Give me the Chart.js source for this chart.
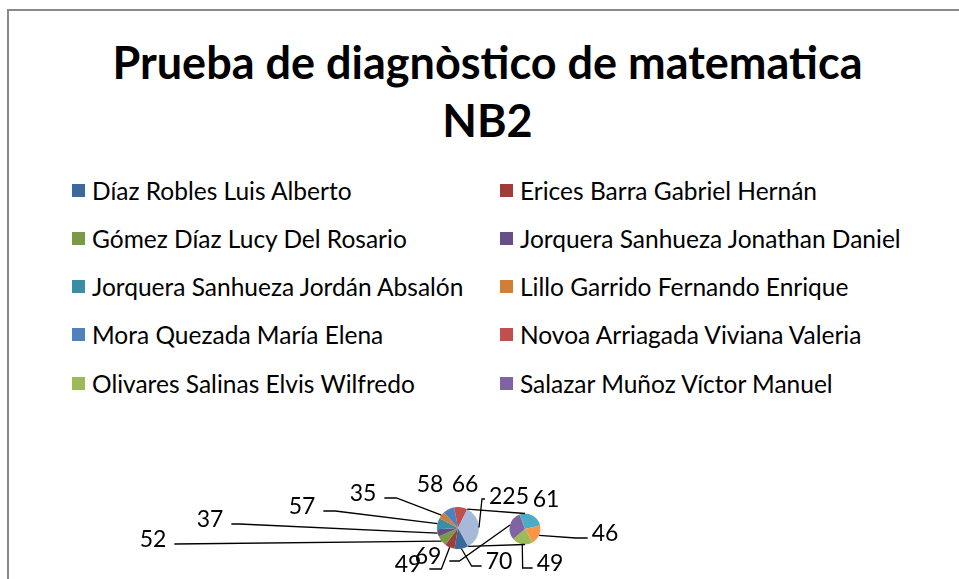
<!DOCTYPE html>
<html><head><meta charset="utf-8">
<script src="https://cdn.jsdelivr.net/npm/chart.js@4.4.1/dist/chart.umd.min.js"></script>
<style>
html,body{margin:0;padding:0;background:#fff;}
#wrap{position:relative;width:959px;height:579px;overflow:hidden;background:#fff;}
#frame{position:absolute;left:7px;top:9px;width:1000px;height:620px;border-left:2px solid #898989;border-top:2px solid #898989;}
canvas{position:absolute;left:0;top:0;}
#title{position:absolute;left:0;width:975px;top:33px;text-align:center;font-family:Lato,sans-serif;font-weight:bold;font-size:45px;line-height:58px;color:#000;}
.li{position:absolute;display:flex;align-items:center;white-space:nowrap;height:30px;font-family:Lato,sans-serif;font-size:24.5px;color:#000;}
.sw{width:13px;height:13px;margin-right:7px;flex:none;}
</style></head>
<body>
<div id="wrap">
  <div id="frame"></div>
  <div id="title">Prueba de diagnòstico de matematica<br>NB2</div>
  <div id="legend"></div>
  <canvas id="c1" width="959" height="579"></canvas>
  <canvas id="c2" width="959" height="579"></canvas>
</div>
<script>
// ---- data ----
const titleLines = ['Prueba de diagnòstico de matematica', 'NB2'];
const students = [
  'Díaz Robles Luis Alberto',
  'Erices Barra Gabriel Hernán',
  'Gómez Díaz Lucy Del Rosario',
  'Jorquera Sanhueza Jonathan Daniel',
  'Jorquera Sanhueza Jordán Absalón',
  'Lillo Garrido Fernando Enrique',
  'Mora Quezada María Elena',
  'Novoa Arriagada Viviana Valeria',
  'Olivares Salinas Elvis Wilfredo',
  'Salazar Muñoz Víctor Manuel',
  'Alumno 11',
  'Alumno 12'
];
const scores = [70, 49, 52, 37, 57, 35, 58, 66, 49, 69, 61, 46];
const otherLabel = 'Otro';
const secondCount = 4;            // last points moved to the second pie
const legendCount = 10;           // entries visible in the legend

// ---- styles ----
const colors = ['#3D689C','#9D3E3B','#7A9A45','#654F86','#3A8DA4','#D17E36',
                '#4F81BD','#C0504D','#9BBB59','#8064A2','#4BACC6','#F79646'];
const otherColor = '#A7B9D9';
const labelFont = '23px Lato, sans-serif';

document.getElementById('title').innerHTML = titleLines.join('<br>');

// build pie datasets from the data arrays
const nMain = students.length - secondCount;
const mainLabels = students.slice(0, nMain).concat([otherLabel]);
const secLabels = students.slice(nMain);
const secValues = scores.slice(nMain);
const mainValues = scores.slice(0, nMain).concat([secValues.reduce((a, b) => a + b, 0)]);
const mainColors = colors.slice(0, nMain).concat([otherColor]);
const secColors = colors.slice(nMain);

// label layout (text centre offset from the pie centre, leader settings)
const mainLabelLayout = [
  {dx: 41, dy: 32, side: 'R', elbow: 10},
  {dx: -50, dy: 35, side: 'L', elbow: 12},
  {dx: -305, dy: 10, side: 'L', elbow: 0},
  {dx: -248, dy: -10, side: 'L', elbow: 8},
  {dx: -156, dy: -23, side: 'L', elbow: 12},
  {dx: -95, dy: -36, side: 'L', elbow: 12},
  {dx: -28, dy: -45, side: null},
  {dx: 7, dy: -45, side: null},
  {dx: 51, dy: -33, side: 'R', elbow: 3, ay: 4}
];
const secLabelLayout = [
  {dx: 25, dy: 33, side: 'R', elbow: 10},
  {dx: -97, dy: 26, side: 'L', elbow: 10},
  {dx: 21, dy: -31, side: null},
  {dx: 80, dy: 3, side: 'R', elbow: 12}
];

// ---- legend (HTML, built from the data) ----
const legend = document.getElementById('legend');
for (let i = 0; i < legendCount; i++) {
  const col = i % 2, row = Math.floor(i / 2);
  const d = document.createElement('div');
  d.className = 'li';
  d.style.left = (col ? 500 : 72) + 'px';
  d.style.top = (190 + row * 48.25 - 15) + 'px';
  d.innerHTML = '<span class="sw" style="background:' + colors[i] + '"></span>';
  d.appendChild(document.createTextNode(students[i]));
  legend.appendChild(d);
}

function drawPieLabels(chart, values, layout) {
  const ctx = chart.ctx;
  const meta = chart.getDatasetMeta(0);
  ctx.save();
  ctx.font = labelFont;
  ctx.fillStyle = '#000';
  ctx.strokeStyle = '#000';
  ctx.lineWidth = 1.3;
  ctx.textAlign = 'center';
  ctx.textBaseline = 'alphabetic';
  meta.data.forEach((arc, i) => {
    const L = layout[i];
    const p = arc.getProps(['x', 'y', 'startAngle', 'endAngle', 'outerRadius'], true);
    const mid = (p.startAngle + p.endAngle) / 2;
    const ax = p.x + Math.cos(mid) * p.outerRadius;
    const ay = p.y + Math.sin(mid) * p.outerRadius;
    const tx = p.x + L.dx, ty = p.y + L.dy;
    const txt = String(values[i]);
    const w = ctx.measureText(txt).width;
    if (L.side) {
      const px = L.side === 'R' ? tx - w / 2 - 4 : tx + w / 2 + 8;
      const py = ty + (L.ay !== undefined ? L.ay : 6);
      const ex = L.side === 'R' ? px - L.elbow : px + L.elbow;
      ctx.beginPath();
      ctx.moveTo(px, py);
      ctx.lineTo(ex, py);
      ctx.lineTo(ax, ay);
      ctx.stroke();
    }
    ctx.fillText(txt, tx, ty + 8.5);
  });
  ctx.restore();
}

const mainChart = new Chart(document.getElementById('c1'), {
  type: 'pie',
  data: {labels: mainLabels, datasets: [{data: mainValues, backgroundColor: mainColors, borderWidth: 0}]},
  options: {
    responsive: false, animation: false, events: [],
    rotation: 151,
    layout: {padding: {left: 437, right: 480, top: 507, bottom: 30}},
    plugins: {legend: {display: false}, tooltip: {enabled: false}, title: {display: false}}
  },
  plugins: [{id: 'mainLabels', afterDraw(c) { drawPieLabels(c, mainValues, mainLabelLayout); }}]
});

const secChart = new Chart(document.getElementById('c2'), {
  type: 'pie',
  data: {labels: secLabels, datasets: [{data: secValues, backgroundColor: secColors, borderWidth: 0}]},
  options: {
    responsive: false, animation: false, events: [],
    rotation: 151,
    layout: {padding: {left: 509.5, right: 418.5, top: 513.5, bottom: 34.5}},
    plugins: {legend: {display: false}, tooltip: {enabled: false}, title: {display: false}}
  },
  plugins: [{id: 'secLabels', afterDraw(c) {
    // series lines joining the "other" slice to the secondary pie
    const other = mainChart.getDatasetMeta(0).data[nMain].getProps(['x', 'y', 'startAngle', 'endAngle', 'outerRadius'], true);
    const s = c.getDatasetMeta(0).data[0].getProps(['x', 'y', 'outerRadius'], true);
    const ctx = c.ctx;
    ctx.save();
    ctx.strokeStyle = '#000';
    ctx.lineWidth = 1.3;
    ctx.beginPath();
    ctx.moveTo(other.x + Math.cos(other.startAngle) * other.outerRadius, other.y + Math.sin(other.startAngle) * other.outerRadius);
    ctx.lineTo(s.x, s.y - s.outerRadius);
    ctx.moveTo(other.x + Math.cos(other.endAngle) * other.outerRadius, other.y + Math.sin(other.endAngle) * other.outerRadius);
    ctx.lineTo(s.x, s.y + s.outerRadius);
    ctx.stroke();
    ctx.restore();
    drawPieLabels(c, secValues, secLabelLayout);
  }}]
});
</script>
</body></html>
